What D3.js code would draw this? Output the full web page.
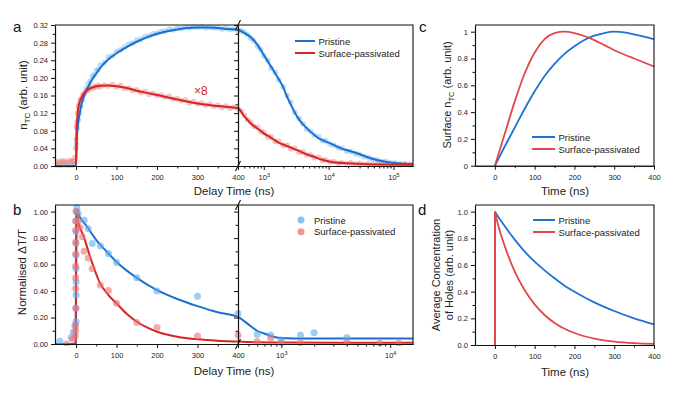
<!DOCTYPE html>
<html>
<head>
<meta charset="utf-8">
<script src="https://cdn.jsdelivr.net/npm/d3@7"></script>
<style>
  body { margin: 0; background: #fff; }
  svg { display: block; font-family: Arial, "Liberation Sans", sans-serif; }
</style>
</head>
<body>
<svg id="chart" width="674" height="394"></svg>
<script>
/* DATA */

// Panel a - fitted curves (time ns, n_TC); passivated already x8
const aPristineFit = [[-52, 0], [-1, 0], [0, 0], [2, 0.06], [5, 0.095], [10, 0.125], [15, 0.145], [20, 0.16], [30, 0.18], [40, 0.197], [50, 0.21], [60, 0.223], [80, 0.242], [100, 0.256], [125, 0.27], [150, 0.282], [175, 0.292], [200, 0.3], [225, 0.306], [250, 0.31], [275, 0.313], [300, 0.3145], [325, 0.3145], [350, 0.313], [375, 0.311], [400, 0.309],
  [500, 0.302], [624, 0.293], [800, 0.275], [1000, 0.252], [1300, 0.225], [1607, 0.203], [2000, 0.178], [2290, 0.157], [2700, 0.135], [3266, 0.112], [4000, 0.095], [5224, 0.078], [7000, 0.063], [10600, 0.0515], [15000, 0.041], [20000, 0.035], [27370, 0.029], [40000, 0.02], [55600, 0.0136], [80000, 0.009], [112000, 0.006], [200000, 0.004]]
const aPassivFit = [[-52, 0], [-1, 0], [0, 0], [1, 0.08], [3, 0.11], [5, 0.13], [10, 0.148], [15, 0.158], [20, 0.165], [30, 0.174], [40, 0.178], [50, 0.181], [60, 0.182], [80, 0.1825], [100, 0.181], [125, 0.177], [150, 0.171], [175, 0.166], [200, 0.161], [250, 0.151], [300, 0.142], [350, 0.136], [400, 0.131],
  [500, 0.113], [624, 0.097], [800, 0.085], [1000, 0.074], [1300, 0.064], [1607, 0.055], [2300, 0.045], [3266, 0.036], [4500, 0.027], [5900, 0.021], [8000, 0.014], [10600, 0.0098], [19200, 0.006], [40000, 0.004], [200000, 0.003]]

// Panel a - measured points
const aPristineDots = [[-50, 0.002], [-40, 0.001], [-30, 0.003], [-20, 0.001], [-10, 0.002], [-4, 0.004], [1, 0.05], [3, 0.085], [6, 0.105], [9, 0.12], [12, 0.135], [16, 0.15], [20, 0.165], [25, 0.175], [30, 0.186], [35, 0.193], [40, 0.203], [45, 0.207], [50, 0.216], [55, 0.219], [60, 0.229], [70, 0.235], [80, 0.247], [90, 0.25], [100, 0.26], [110, 0.264], [120, 0.27], [130, 0.277], [140, 0.279], [150, 0.286], [160, 0.288], [170, 0.294], [180, 0.295], [190, 0.3], [200, 0.301], [210, 0.305], [220, 0.306], [230, 0.31], [240, 0.309], [250, 0.313], [260, 0.312], [270, 0.315], [280, 0.314], [290, 0.316], [300, 0.315], [310, 0.316], [320, 0.314], [330, 0.315], [340, 0.313], [350, 0.314], [360, 0.311], [370, 0.313], [380, 0.31], [390, 0.311], [400, 0.308],
  [450, 0.307], [500, 0.304], [560, 0.298], [630, 0.29], [700, 0.284], [800, 0.272], [900, 0.264], [1000, 0.25], [1150, 0.24], [1300, 0.222], [1500, 0.212], [1700, 0.195], [2000, 0.18], [2300, 0.16], [2600, 0.145], [3000, 0.122], [3500, 0.108], [4000, 0.096], [4600, 0.084], [5300, 0.079], [6000, 0.07], [7000, 0.066], [8000, 0.058], [9000, 0.057], [10500, 0.05], [12000, 0.047], [14000, 0.042], [16000, 0.04], [19000, 0.034], [22000, 0.033], [26000, 0.028], [30000, 0.026], [35000, 0.021], [41000, 0.019], [48000, 0.015], [56000, 0.014], [65000, 0.01], [76000, 0.01], [90000, 0.007], [105000, 0.007], [125000, 0.005], [150000, 0.005], [180000, 0.004]]
const aPassivDots = [[-50, 0.006], [-45, 0.01], [-40, 0.008], [-35, 0.012], [-30, 0.009], [-25, 0.011], [-20, 0.008], [-15, 0.013], [-10, 0.01], [-6, 0.012], [-3, 0.02], [-1, 0.04], [0, 0.06], [1, 0.09], [2, 0.1], [4, 0.12], [6, 0.135], [8, 0.14], [10, 0.15], [13, 0.152], [16, 0.16], [20, 0.163], [25, 0.17], [30, 0.172], [35, 0.178], [40, 0.176], [45, 0.181], [50, 0.179], [55, 0.183], [60, 0.18], [70, 0.184], [80, 0.181], [90, 0.185], [100, 0.18], [110, 0.183], [120, 0.176], [130, 0.177], [140, 0.171], [150, 0.173], [160, 0.167], [170, 0.169], [180, 0.163], [190, 0.165], [200, 0.16], [210, 0.161], [220, 0.156], [230, 0.158], [240, 0.152], [250, 0.153], [260, 0.148], [270, 0.15], [280, 0.144], [290, 0.146], [300, 0.141], [310, 0.143], [320, 0.138], [330, 0.14], [340, 0.135], [350, 0.138], [360, 0.133], [370, 0.136], [380, 0.131], [390, 0.134], [400, 0.13],
  [450, 0.124], [500, 0.115], [560, 0.105], [630, 0.1], [700, 0.09], [800, 0.088], [900, 0.078], [1000, 0.076], [1150, 0.066], [1300, 0.066], [1500, 0.056], [1700, 0.056], [2000, 0.047], [2300, 0.047], [2600, 0.039], [3000, 0.04], [3500, 0.032], [4000, 0.032], [4600, 0.025], [5300, 0.025], [6000, 0.019], [7000, 0.02], [8000, 0.013], [9000, 0.014], [10500, 0.009], [12000, 0.01], [14000, 0.006], [16000, 0.008], [19000, 0.005], [22000, 0.007], [26000, 0.004], [30000, 0.006], [35000, 0.004], [41000, 0.005], [48000, 0.003], [56000, 0.005], [65000, 0.003], [76000, 0.004], [90000, 0.003], [105000, 0.004], [125000, 0.003], [150000, 0.004], [180000, 0.003]]

// Panel b - normalised dT/T
const bPristineFit = [[-52, 0], [-1, 0], [0, 0.5], [1, 0.98], [3, 1.0], [10, 0.955], [25, 0.895], [50, 0.785], [75, 0.7], [100, 0.62], [150, 0.5], [200, 0.407], [250, 0.34], [300, 0.286], [350, 0.24], [400, 0.205], [484, 0.156], [600, 0.1], [689, 0.08], [850, 0.055], [1000, 0.045], [1300, 0.042], [2000, 0.041], [16200, 0.041]]
const bPassivFit = [[-52, 0], [-1, 0], [0, 0.5], [1, 0.97], [2, 0.99], [5, 0.93], [18, 0.82], [39, 0.62], [59, 0.46], [80, 0.37], [100, 0.307], [125, 0.228], [150, 0.168], [175, 0.125], [200, 0.093], [250, 0.055], [300, 0.035], [350, 0.024], [400, 0.018], [600, 0.013], [1000, 0.011], [16200, 0.01]]
const bPristineDots = [[-40, 0.02], [-12, 0.05], [-7, 0.09], [-3, 0.14], [0, 0.17], [0, 0.27], [0, 0.37], [0, 0.47], [0, 0.57], [0, 0.67], [0, 0.76], [0, 0.85], [0, 0.93], [1, 1.0], [2, 1.03], [5, 0.985], [20, 0.935], [30, 0.87], [40, 0.76], [60, 0.74], [80, 0.683], [100, 0.615], [150, 0.5], [200, 0.4], [300, 0.36], [400, 0.23],
  [600, 0.073], [800, 0.068], [1000, 0.03], [1500, 0.068], [2000, 0.085], [4000, 0.05]]
const bPassivDots = [[-23, 0.0], [-8, 0.035], [-2, 0.06], [-1, 0.1], [-1, 0.14], [-1, 0.27], [-1, 0.42], [-1, 0.5], [-1, 0.59], [-1, 0.68], [-1, 0.77], [-1, 0.86], [-1, 0.93], [0, 1.0], [5, 0.93], [10, 0.88], [15, 0.81], [20, 0.7], [30, 0.65], [40, 0.57], [60, 0.445], [80, 0.405], [100, 0.307], [150, 0.162], [200, 0.125], [300, 0.06], [400, 0.068],
  [600, 0.018], [800, 0.043], [1000, 0.012], [1500, 0.01], [4000, 0.015], [8000, 0.005], [12000, 0.005]]

// Panel c - surface n_TC (normalised)
const cPristine = [[0, 0], [25, 0.145], [50, 0.285], [75, 0.425], [100, 0.555], [125, 0.67], [150, 0.76], [175, 0.835], [200, 0.892], [225, 0.938], [250, 0.97], [275, 0.99], [300, 1.0], [325, 0.995], [350, 0.98], [375, 0.963], [400, 0.943]]
const cPassiv = [[0, 0], [25, 0.24], [50, 0.48], [75, 0.69], [100, 0.845], [125, 0.945], [150, 0.99], [175, 1.0], [200, 0.99], [225, 0.968], [250, 0.937], [275, 0.9], [300, 0.862], [325, 0.83], [350, 0.8], [375, 0.77], [400, 0.74]]

// Panel d - average concentration of holes (step up at t = 0, then decay)
const dPristine = [[0, 0], [0, 1], [25, 0.89], [50, 0.79], [75, 0.7], [100, 0.625], [125, 0.56], [150, 0.5], [175, 0.445], [200, 0.4], [250, 0.32], [300, 0.255], [350, 0.2], [400, 0.155]]
const dPassiv = [[0, 0], [0, 1], [10, 0.88], [25, 0.74], [50, 0.55], [75, 0.41], [100, 0.305], [125, 0.225], [150, 0.165], [175, 0.122], [200, 0.09], [250, 0.048], [300, 0.026], [350, 0.014], [400, 0.008]]

// Tick values
const timeMajor = [0, 100, 200, 300, 400]
const timeMinor = [50, 150, 250, 350]
const aYMajor = [0, 0.04, 0.08, 0.12, 0.16, 0.2, 0.24, 0.28, 0.32]
const aYMinor = [0.02, 0.06, 0.1, 0.14, 0.18, 0.22, 0.26, 0.3]
const unitMajor = [0, 0.2, 0.4, 0.6, 0.8, 1.0]
const unitMinor = [0.1, 0.3, 0.5, 0.7, 0.9]
const aLogMajor = [1e3, 1e4, 1e5]
const aLogMinor = [500, 600, 700, 800, 900, 2e3, 3e3, 4e3, 5e3, 6e3, 7e3, 8e3, 9e3, 2e4, 3e4, 4e4, 5e4, 6e4, 7e4, 8e4, 9e4]
const bLogMajor = [1e3, 1e4]
const bLogMinor = [500, 600, 700, 800, 900, 2e3, 3e3, 4e3, 5e3, 6e3, 7e3, 8e3, 9e3]

const legendNames = ['Pristine', 'Surface-passivated']

/* COLOURS */
const blueLine = '#1d6fcf'
const redLine = '#d42626'
const blueDot = '#5aaeee'
const redDot = '#f07070'
const blueSim = '#1f72d2'
const redSim = '#e2474c'

const svg = d3.select('#chart')

/* HELPERS */

function styleAxis (g) {
  g.attr('font-size', 7.5).attr('font-family', 'Arial, "Liberation Sans", sans-serif')
  g.selectAll('.domain').attr('stroke', '#111').attr('stroke-width', 1.1)
  g.selectAll('.tick line').attr('stroke', '#111').attr('stroke-width', 1)
  g.selectAll('.tick text').attr('fill', '#222')
}

function yTicks (y, x, major, minor, fmt, labels) {
  svg.append('g').attr('transform', `translate(${x},0)`)
    .call(d3.axisLeft(y).tickValues(minor).tickSize(2.5).tickSizeOuter(0).tickFormat(''))
    .call(styleAxis)
  svg.append('g').attr('transform', `translate(${x},0)`)
    .call(d3.axisLeft(y).tickValues(major).tickSize(4).tickPadding(3).tickSizeOuter(0).tickFormat(labels ? fmt : ''))
    .call(styleAxis)
}

function xTicks (x, y, major, minor, fmt) {
  svg.append('g').attr('transform', `translate(0,${y})`)
    .call(d3.axisBottom(x).tickValues(minor).tickSize(2.5).tickSizeOuter(0).tickFormat(''))
    .call(styleAxis)
  return svg.append('g').attr('transform', `translate(0,${y})`)
    .call(d3.axisBottom(x).tickValues(major).tickSize(4).tickPadding(5).tickSizeOuter(0).tickFormat(fmt))
    .call(styleAxis)
}

// 10^n labels with a raised exponent
function logLabels (g) {
  g.selectAll('.tick text').each(function (d) {
    const t = d3.select(this).text(null)
    t.append('tspan').text('10')
    t.append('tspan').attr('dy', -3).attr('font-size', 5.5).text(Math.round(Math.log10(d)))
  })
}

function frame (x0, x1, y0, y1) {
  svg.append('path')
    .attr('d', `M${x0},${y0}H${x1}V${y1}`)
    .attr('fill', 'none').attr('stroke', '#111').attr('stroke-width', 1.1)
}

function clip (id, x0, x1, y0, y1) {
  svg.append('clipPath').attr('id', id)
    .append('rect').attr('x', x0).attr('y', y0 - 4).attr('width', x1 - x0 + 3).attr('height', y1 - y0 + 6)
}

function breakMarks (x, yTop, yBot) {
  [yTop, yBot].forEach(yy => {
    svg.append('line')
      .attr('x1', x - 2.5).attr('y1', yy + 5).attr('x2', x + 2.5).attr('y2', yy - 5)
      .attr('stroke', '#111').attr('stroke-width', 1.1)
  })
}

function lineLegend (x, y, colours, size) {
  legendNames.forEach((name, i) => {
    svg.append('line')
      .attr('x1', x).attr('x2', x + size).attr('y1', y + i * 12).attr('y2', y + i * 12)
      .attr('stroke', colours[i]).attr('stroke-width', 2)
    svg.append('text')
      .attr('x', x + size + 3.5).attr('y', y + i * 12 + 3.5)
      .attr('font-size', 9.5).attr('fill', '#222').text(name)
  })
}

function xTitle (text, x, y) {
  svg.append('text').attr('x', x).attr('y', y).attr('text-anchor', 'middle')
    .attr('font-size', 11.5).attr('fill', '#222').text(text)
}

function panelLetter (text, x, y) {
  svg.append('text').attr('x', x).attr('y', y).attr('font-size', 15).attr('fill', '#111').text(text)
}

// linear up to the break, log after it
function brokenX (linDomain, logDomain, x0, xb, x1) {
  const lin = d3.scaleLinear().domain(linDomain).range([x0, xb])
  const log = d3.scaleLog().domain(logDomain).range([xb, x1])
  const f = t => t <= linDomain[1] ? lin(t) : log(t)
  f.lin = lin
  f.log = log
  return f
}

/* PANEL A */

const aX = brokenX([-52, 400], [400, 200000], 55, 238, 413)
const aY = d3.scaleLinear().domain([0, 0.32]).range([166, 25])
clip('clipA', 55, 413, 25, 166)

const aLayer = svg.append('g').attr('clip-path', 'url(#clipA)')
aLayer.selectAll('.dotAB').data(aPristineDots).join('circle')
  .attr('cx', d => aX(d[0])).attr('cy', d => aY(d[1])).attr('r', 2.8)
  .attr('fill', blueDot).attr('opacity', 0.42)
aLayer.selectAll('.dotAR').data(aPassivDots).join('circle')
  .attr('cx', d => aX(d[0])).attr('cy', d => aY(d[1])).attr('r', 2.8)
  .attr('fill', redDot).attr('opacity', 0.42)

const aLine = d3.line().x(d => aX(d[0])).y(d => aY(d[1])).curve(d3.curveMonotoneX)
aLayer.append('path').datum(aPristineFit).attr('d', aLine)
  .attr('fill', 'none').attr('stroke', blueLine).attr('stroke-width', 2)
aLayer.append('path').datum(aPassivFit).attr('d', aLine)
  .attr('fill', 'none').attr('stroke', redLine).attr('stroke-width', 2)

yTicks(aY, 55, aYMajor, aYMinor, d3.format('.2f'), true)
yTicks(aY, 238, aYMajor, aYMinor, d3.format('.2f'), false)
xTicks(aX.lin, 166, timeMajor, timeMinor, d3.format('d'))
xTicks(aX.log, 166, aLogMajor, aLogMinor, d3.format('d')).call(logLabels)
frame(55, 413, 25, 166)
breakMarks(238, 25, 166)

svg.append('text').attr('x', 194).attr('y', 95).attr('font-size', 12).attr('fill', redLine).text('×8')
lineLegend(295, 41, [blueLine, redLine], 20)

/* PANEL B */

const bX = brokenX([-52, 400], [400, 16200], 55, 238, 413)
const bY = d3.scaleLinear().domain([0, 1.05]).range([344, 205])
clip('clipB', 55, 413, 205, 344)

const bLayer = svg.append('g').attr('clip-path', 'url(#clipB)')
const bLine = d3.line().x(d => bX(d[0])).y(d => bY(d[1])).curve(d3.curveMonotoneX)
bLayer.append('path').datum(bPristineFit).attr('d', bLine)
  .attr('fill', 'none').attr('stroke', blueLine).attr('stroke-width', 2)
bLayer.append('path').datum(bPassivFit).attr('d', bLine)
  .attr('fill', 'none').attr('stroke', redLine).attr('stroke-width', 2)
bLayer.selectAll('.dotBB').data(bPristineDots).join('circle')
  .attr('cx', d => bX(d[0])).attr('cy', d => bY(d[1])).attr('r', 3.5)
  .attr('fill', blueDot).attr('opacity', 0.6)
bLayer.selectAll('.dotBR').data(bPassivDots).join('circle')
  .attr('cx', d => bX(d[0])).attr('cy', d => bY(d[1])).attr('r', 3.5)
  .attr('fill', redDot).attr('opacity', 0.6)

yTicks(bY, 55, unitMajor, unitMinor, d3.format('.2f'), true)
yTicks(bY, 238, unitMajor, unitMinor, d3.format('.2f'), false)
xTicks(bX.lin, 344, timeMajor, timeMinor, d3.format('d'))
xTicks(bX.log, 344, bLogMajor, bLogMinor, d3.format('d')).call(logLabels)
frame(55, 413, 205, 344)
breakMarks(238, 205, 344)

legendNames.forEach((name, i) => {
  svg.append('circle').attr('cx', 301).attr('cy', 220 + i * 11.7).attr('r', 3.5)
    .attr('fill', i === 0 ? blueDot : redDot).attr('opacity', 0.75)
  svg.append('text').attr('x', 314).attr('y', 220 + i * 11.7 + 3.5)
    .attr('font-size', 9.5).attr('fill', '#222').text(name)
})

/* PANEL C */

const cX = d3.scaleLinear().domain([-50, 400]).range([475, 654])
const cY = d3.scaleLinear().domain([0, 1.05]).range([165.7, 25])
const cLine = d3.line().x(d => cX(d[0])).y(d => cY(d[1])).curve(d3.curveMonotoneX)
svg.append('path').datum(cPristine).attr('d', cLine)
  .attr('fill', 'none').attr('stroke', blueSim).attr('stroke-width', 1.8)
svg.append('path').datum(cPassiv).attr('d', cLine)
  .attr('fill', 'none').attr('stroke', redSim).attr('stroke-width', 1.8)
yTicks(cY, 475, unitMajor, unitMinor, d => String(+d.toFixed(1)), true)
xTicks(cX, 165.7, timeMajor, timeMinor, d3.format('d'))
frame(475, 654, 25, 165.7)
lineLegend(532, 137, [blueSim, redSim], 23)

/* PANEL D */

const dX = d3.scaleLinear().domain([-50, 400]).range([475, 654])
const dY = d3.scaleLinear().domain([0, 1.05]).range([345, 205])
const dStep = d3.line().x(d => dX(d[0])).y(d => dY(d[1]))
const dDecay = d3.line().x(d => dX(d[0])).y(d => dY(d[1])).curve(d3.curveMonotoneX)
;[[dPristine, blueSim], [dPassiv, redSim]].forEach(([series, colour]) => {
  const g = svg.append('g').attr('fill', 'none').attr('stroke', colour).attr('stroke-width', 1.8)
  g.append('path').datum(series.slice(0, 2)).attr('d', dStep)
  g.append('path').datum(series.slice(1)).attr('d', dDecay)
})
yTicks(dY, 475, unitMajor, unitMinor, d3.format('.1f'), true)
xTicks(dX, 345, timeMajor, timeMinor, d3.format('d'))
frame(475, 654, 205, 345)
lineLegend(533, 220, [blueSim, redSim], 22)

/* TITLES */

panelLetter('a', 13, 32)
panelLetter('b', 13, 215)
panelLetter('c', 419, 32)
panelLetter('d', 418, 215)

xTitle('Delay Time (ns)', 234, 195)
xTitle('Delay Time (ns)', 234, 375)
xTitle('Time (ns)', 565, 195)
xTitle('Time (ns)', 565, 376)

const aTitle = svg.append('text').attr('transform', 'translate(27,95) rotate(-90)')
  .attr('text-anchor', 'middle').attr('font-size', 11.5).attr('fill', '#222')
aTitle.append('tspan').text('n')
aTitle.append('tspan').attr('font-size', 8).attr('dy', 3).text('TC')
aTitle.append('tspan').attr('dy', -3).text(' (arb. unit)')

svg.append('text').attr('transform', 'translate(26,272) rotate(-90)')
  .attr('text-anchor', 'middle').attr('font-size', 11.5).attr('fill', '#222')
  .text('Normalised ΔT/T')

const cTitle = svg.append('text').attr('transform', 'translate(451,95) rotate(-90)')
  .attr('text-anchor', 'middle').attr('font-size', 11).attr('fill', '#222')
cTitle.append('tspan').text('Surface n')
cTitle.append('tspan').attr('font-size', 7.5).attr('dy', 3).text('TC')
cTitle.append('tspan').attr('dy', -3).text(' (arb. unit)')

svg.append('text').attr('transform', 'translate(440,275) rotate(-90)')
  .attr('text-anchor', 'middle').attr('font-size', 11).attr('fill', '#222')
  .text('Average Concentration')
svg.append('text').attr('transform', 'translate(453,275) rotate(-90)')
  .attr('text-anchor', 'middle').attr('font-size', 11).attr('fill', '#222')
  .text('of Holes (arb. unit)')
</script>
</body>
</html>
